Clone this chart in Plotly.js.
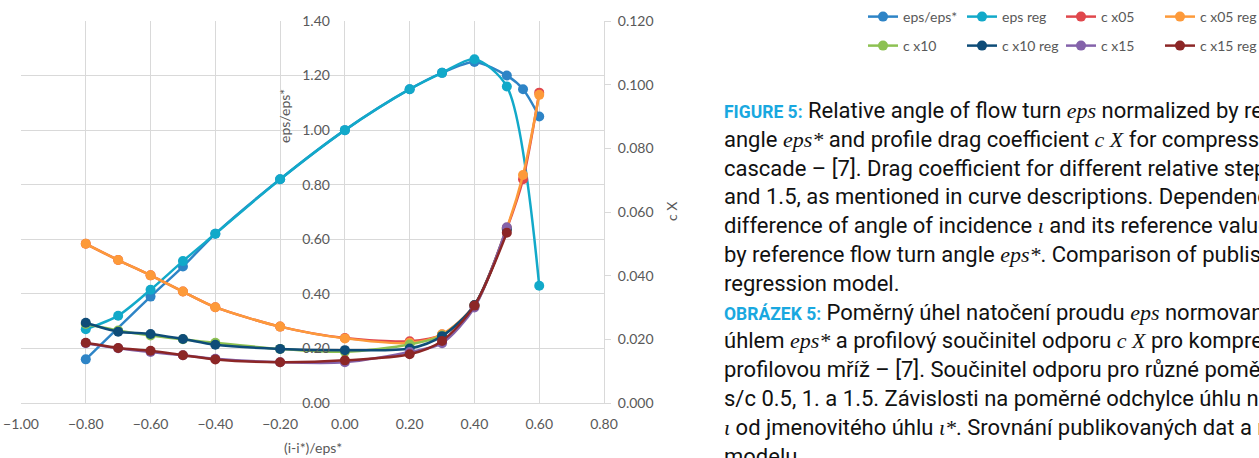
<!DOCTYPE html>
<html><head><meta charset="utf-8">
<script src="https://cdn.plot.ly/plotly-3.0.1.min.js"></script>
<style>html,body{margin:0;padding:0;background:#fff;overflow:hidden}</style>
</head><body><div id="chart" style="width:1259px;height:458px"></div>
<script>
// ---- data ----
const xEps     = [-0.8, -0.6, -0.5, -0.4, -0.2, 0.0, 0.2, 0.3, 0.4, 0.5, 0.55, 0.6];
const epsData  = [0.16, 0.39, 0.50, 0.62, 0.82, 1.00, 1.15, 1.21, 1.25, 1.20, 1.15, 1.05];
const xEpsReg  = [-0.8, -0.7, -0.6, -0.5, -0.4, -0.2, 0.0, 0.2, 0.3, 0.4, 0.5, 0.6];
const epsReg   = [0.27, 0.32, 0.415, 0.52, 0.62, 0.82, 1.00, 1.15, 1.21, 1.26, 1.16, 0.43];

const xC05     = [-0.8, -0.7, -0.6, -0.5, -0.4, -0.2, 0.0, 0.2, 0.3, 0.4, 0.5, 0.55, 0.6];
const cX05     = [0.0500, 0.0449, 0.0401, 0.0350, 0.0301, 0.0240, 0.0204, 0.0194, 0.0215, 0.0306, 0.0548, 0.0703, 0.0975];
const cX05reg  = [0.0500, 0.0449, 0.0401, 0.0350, 0.0301, 0.0240, 0.0203, 0.0189, 0.0216, 0.0307, 0.0550, 0.0716, 0.0968];

const xC       = [-0.8, -0.7, -0.6, -0.5, -0.4, -0.2, 0.0, 0.2, 0.3, 0.4, 0.5];
const cX10     = [0.0248, 0.0228, 0.0212, 0.0200, 0.0189, 0.0170, 0.0161, 0.0184, 0.0212, 0.0305, 0.0548];
const cX10reg  = [0.0252, 0.0224, 0.0217, 0.0201, 0.0183, 0.0170, 0.0166, 0.0171, 0.0210, 0.0308, 0.0545];
const cX15     = [0.0188, 0.0172, 0.0160, 0.0150, 0.0139, 0.0128, 0.0128, 0.0160, 0.0188, 0.0300, 0.0552];
const cX15reg  = [0.0189, 0.0173, 0.0164, 0.0150, 0.0137, 0.0128, 0.0134, 0.0153, 0.0195, 0.0306, 0.0535];

const seriesNames = ['eps/eps*', 'eps reg', 'c x05', 'c x05 reg', 'c x10', 'c x10 reg', 'c x15', 'c x15 reg'];
const xTitle = '(i-i*)/eps*';
const yTitle = 'eps/eps*';
const y2Title = 'c X';

const I = s => '<span style="font-family:\'Liberation Serif\',serif"><i>' + s + '</i></span>';
const B = s => '<b><span style="color:#19A8E0;font-size:17.5px">' + s + '</span></b>';
const captionLines = [
  B('FIGURE 5:') + ' Relative angle of flow turn ' + I('eps') + ' normalized by reference flow turn',
  'angle ' + I('eps*') + ' and profile drag coefficient ' + I('c X') + ' for compressor profile',
  'cascade – [7]. Drag coefficient for different relative steps s/c 0.5, 1.',
  'and 1.5, as mentioned in curve descriptions. Dependence on relative',
  'difference of angle of incidence ' + I('ι') + ' and its reference value ' + I('ι*') + ' normalized',
  'by reference flow turn angle ' + I('eps*') + '. Comparison of published data and',
  'regression model.',
  B('OBRÁZEK 5:') + ' Poměrný úhel natočení proudu ' + I('eps') + ' normovaný jmenovitým',
  'úhlem ' + I('eps*') + ' a profilový součinitel odporu ' + I('c X') + ' pro kompresorovou',
  'profilovou mříž – [7]. Součinitel odporu pro různé poměrné rozteče',
  's/c 0.5, 1. a 1.5. Závislosti na poměrné odchylce úhlu náběhu',
  I('ι') + ' od jmenovitého úhlu ' + I('ι*') + '. Srovnání publikovaných dat a regresního',
  'modelu.'
];

// ---- styles ----
const colors = ['#2E84C6', '#12A9C9', '#E0474C', '#FD9A3A', '#8DC152', '#0E4C78', '#8462AA', '#8C2626'];
const xs = [xEps, xEpsReg, xC05, xC05, xC, xC, xC, xC];
const ys = [epsData, epsReg, cX05, cX05reg, cX10, cX10reg, cX15, cX15reg];

const traces = seriesNames.map((n, i) => ({
  type: 'scatter', mode: 'lines+markers', name: n,
  x: xs[i], y: ys[i],
  yaxis: i < 2 ? 'y' : 'y2',
  legend: i < 4 ? 'legend' : 'legend2',
  line: {color: colors[i], width: 2.5, shape: 'spline', smoothing: 0.8},
  marker: {color: colors[i], size: 10},
  hoverinfo: 'x+y'
}));

const tickFont = {family: 'Lato, "Open Sans", sans-serif', size: 14, color: '#595959'};
const W = 583, H = 382, L = 21, T = 21;
const px = x => (x - L) / W;
const py = y => (T + H - y) / H;

const annotations = [
  {text: yTitle, xref: 'paper', yref: 'paper', x: px(285), y: py(116), textangle: -90, showarrow: false, font: tickFont, xanchor: 'center', yanchor: 'middle'},
  {text: y2Title, xref: 'paper', yref: 'paper', x: px(671), y: py(211), textangle: -90, showarrow: false, font: tickFont, xanchor: 'center', yanchor: 'middle'},
  {text: xTitle, xref: 'paper', yref: 'paper', x: 0.5, y: py(447), showarrow: false, font: tickFont, xanchor: 'center', yanchor: 'middle'}
];
const capFont = {family: 'Roboto, sans-serif', size: 22, color: '#111111'};
captionLines.forEach((t, k) => {
  annotations.push({text: t, xref: 'paper', yref: 'paper', x: px(722), y: py(110.5 + k * 28.8),
    xanchor: 'left', yanchor: 'middle', align: 'left', showarrow: false, font: capFont});
});

const legendBase = {orientation: 'h', xref: 'paper', yref: 'paper', x: px(863), xanchor: 'left', yanchor: 'middle',
  font: tickFont, bgcolor: 'rgba(0,0,0,0)', entrywidth: 54, entrywidthmode: 'pixels', traceorder: 'normal', itemwidth: 30};

const layout = {
  width: 1259, height: 458,
  margin: {l: L, r: 1259 - L - W, t: T, b: 458 - T - H, pad: 0, autoexpand: false},
  paper_bgcolor: '#ffffff', plot_bgcolor: '#ffffff',
  font: tickFont,
  showlegend: true,
  legend: Object.assign({}, legendBase, {y: py(17)}),
  legend2: Object.assign({}, legendBase, {y: py(46)}),
  xaxis: {range: [-1, 0.8], tick0: -1, dtick: 0.2, tickformat: '.2f', showgrid: true, gridcolor: '#D9D9D9', gridwidth: 1,
    zeroline: false, showline: true, linecolor: '#D9D9D9', linewidth: 1, ticks: '', tickfont: tickFont, ticklabelstandoff: 8, automargin: false},
  yaxis: {range: [0, 1.4], dtick: 0.2, tickformat: '.2f', showgrid: true, gridcolor: '#D9D9D9', gridwidth: 1, automargin: false,
    zeroline: false, showline: false, ticks: '', anchor: 'free', position: 1 / 1.8, side: 'left', tickfont: tickFont, ticklabelstandoff: 15},
  yaxis2: {range: [0, 0.12], dtick: 0.02, tickformat: '.3f', overlaying: 'y', side: 'right', anchor: 'x', showgrid: false, automargin: false,
    zeroline: false, showline: true, linecolor: '#D9D9D9', linewidth: 1, ticks: 'outside', ticklen: 6, tickcolor: '#D9D9D9', tickfont: tickFont, ticklabelstandoff: 4},
  annotations: annotations
};

Plotly.newPlot('chart', traces, layout, {staticPlot: true, displayModeBar: false});
</script>
</body></html>
